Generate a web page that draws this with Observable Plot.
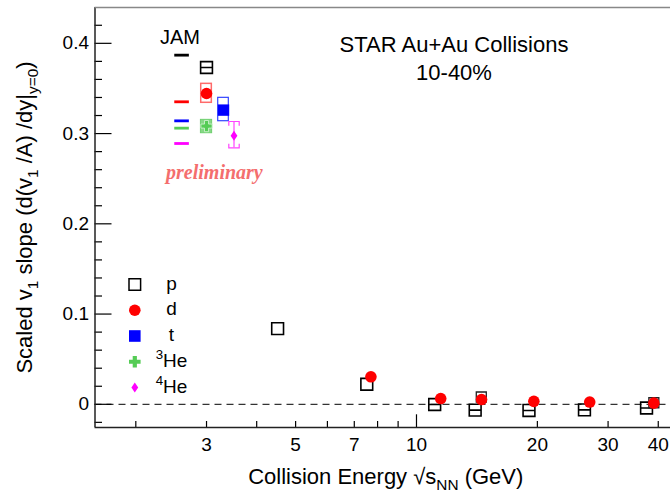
<!DOCTYPE html>
<html><head><meta charset="utf-8">
<script src="https://cdn.jsdelivr.net/npm/d3@7"></script>
<script src="https://cdn.jsdelivr.net/npm/@observablehq/plot@0.6"></script>
<style>
html,body{margin:0;padding:0;background:#fff;}
#chart svg{display:block;}
</style>
</head><body><div id="chart"></div>
<script>
// ---------------- data ----------------
const xTickLabels = [3, 5, 7, 10, 20, 30, 40];
const xMinorTicks = [2, 3, 4, 5, 6, 7, 8, 9, 20, 30, 40];
const xMajorTicks = [10];
const yTickLabels = [0, 0.1, 0.2, 0.3, 0.4];
const yMinorTicks = [-0.02, 0.02, 0.04, 0.06, 0.08, 0.12, 0.14, 0.16, 0.18, 0.22, 0.24, 0.26, 0.28, 0.32, 0.34, 0.36, 0.38, 0.42];

const species = ["p", "d", "t", "^{3}He", "^{4}He"];
const speciesColors = ["black", "#ff0000", "#0000ff", "#55cc55", "#ff00ff"];

// JAM model values at 3 GeV (drawn at a nominal offset energy)
const jamEnergy = 2.6;
const jamSlope = [0.3869, 0.3352, 0.3141, 0.3060, 0.2890];

// protons
const pEnergy = [3.0, 4.51, 7.52, 11.1, 14.0, 19.06, 26.2, 37.4];
const pSlope = [0.3732, 0.0839, 0.0222, -0.0002, -0.0064, -0.0068, -0.0062, -0.0041];
const pWithSys = [true, false, false, true, true, true, true, true];

// deuterons
const dEnergy = [3.0, 7.7, 11.49, 14.52, 19.6, 27.0, 39.0];
const dSlope = [0.3444, 0.0305, 0.0064, 0.0053, 0.0033, 0.0025, 0.0013];
const dSysEnergy = [3.0];
const dSysLow = [0.3341];
const dSysHigh = [0.3551];
const dBoxEnergy = [14.5, 39.0];
const dBoxSlope = [0.0081, 0.0017];

// tritons
const tEnergy = [3.307];
const tSlope = [0.3260];
const tSysLow = [0.3137];
const tSysHigh = [0.3396];

// 3He
const he3Energy = [3.0];
const he3Slope = [0.3083];
const he3SysLow = [0.3004];
const he3SysHigh = [0.3152];

// 4He
const he4Energy = [3.512];
const he4Slope = [0.2975];
const he4ErrLow = [0.2842];
const he4ErrHigh = [0.3134];

// ---------------- layout ----------------
const W = 670, H = 494;
const margin = {left: 94.5, right: 0, top: 7, bottom: 67};
const xDomain = [1.5827, 42.91];
const yDomain = [-0.0257, 0.4397];
const frameW = W - margin.left - margin.right;
const frameH = H - margin.top - margin.bottom;

const zip = (xs, ys) => xs.map((x, i) => ({x, y: ys[i]}));
const pData = pEnergy.map((x, i) => ({x, y: pSlope[i], sys: pWithSys[i]}));
const dData = zip(dEnergy, dSlope);
const dBox = zip(dBoxEnergy, dBoxSlope);
const tData = zip(tEnergy, tSlope);
const he3Data = zip(he3Energy, he3Slope);
const he4Data = zip(he4Energy, he4Slope);
const jamData = jamSlope.map((y, i) => ({x: jamEnergy, y, color: speciesColors[i]}));
const box = (xs, lo, hi) => xs.map((x, i) => ({x, lo: lo[i], hi: hi[i]}));
const dSys = box(dSysEnergy, dSysLow, dSysHigh);
const tSys = box(tEnergy, tSysLow, tSysHigh);
const he3Sys = box(he3Energy, he3SysLow, he3SysHigh);
const he4Err = box(he4Energy, he4ErrLow, he4ErrHigh);

// ---------------- symbols ----------------
function sym(fn) { return {draw(c, size) { fn(c, Math.sqrt(size / Math.PI)); }}; }
const sqPath = (c, r) => { c.moveTo(-r, -r); c.lineTo(r, -r); c.lineTo(r, r); c.lineTo(-r, r); c.closePath(); };
const square = sym(sqPath);
const squareLine = sym((c, r) => { sqPath(c, r); c.moveTo(-r, 0); c.lineTo(r, 0); });
const plus = sym((c, r) => { const a = r * 0.36;
  c.moveTo(-a, -r); c.lineTo(a, -r); c.lineTo(a, -a); c.lineTo(r, -a); c.lineTo(r, a); c.lineTo(a, a);
  c.lineTo(a, r); c.lineTo(-a, r); c.lineTo(-a, a); c.lineTo(-r, a); c.lineTo(-r, -a); c.lineTo(-a, -a); c.closePath(); });
const diamond = sym((c, r) => { c.moveTo(0, -r); c.lineTo(0.68 * r, 0); c.lineTo(0, r); c.lineTo(-0.68 * r, 0); c.closePath(); });
const dash = sym((c, r) => { c.moveTo(-r, 0); c.lineTo(r, 0); });
const capTop = sym((c, r) => { c.moveTo(-r, 0.8 * r); c.lineTo(-r, 0); c.lineTo(r, 0); c.lineTo(r, 0.8 * r); });
const capBottom = sym((c, r) => { c.moveTo(-r, -0.8 * r); c.lineTo(-r, 0); c.lineTo(r, 0); c.lineTo(r, -0.8 * r); });

const legendStyles = [
  {symbol: square, r: 5.8, fill: "white", stroke: "black", strokeWidth: 1.5},
  {symbol: "circle", r: 5.8, fill: speciesColors[1], stroke: "none"},
  {symbol: square, r: 5.8, fill: speciesColors[2], stroke: "none"},
  {symbol: plus, r: 5.8, fill: speciesColors[3], stroke: "none"},
  {symbol: diamond, r: 5, fill: speciesColors[4], stroke: "none"}
];

const legendMarks = species.flatMap((name, i) => [
  Plot.dot([name], {frameAnchor: "top-left", dx: 39.8, dy: 277 + i * 25.75, ...legendStyles[i]}),
  Plot.text([name], {frameAnchor: "top-left", dx: 76.5, dy: 276 + i * 25.75, text: d => d, lineAnchor: "middle", textAnchor: "middle", fontSize: 19, fill: "black"})
]);

const tick = {stroke: "black", strokeWidth: 1.2};

const plot = Plot.plot({
  width: W, height: H,
  marginLeft: margin.left, marginRight: margin.right, marginTop: margin.top, marginBottom: margin.bottom,
  style: {fontFamily: "'Liberation Sans', Arial, sans-serif", fontSize: "19px", background: "white", color: "black", overflow: "visible"},
  x: {type: "log", domain: xDomain},
  y: {domain: yDomain},
  color: {type: "identity"},
  marks: [
    Plot.ruleY([0], {stroke: "black", strokeWidth: 1, strokeDasharray: "7,5"}),
    Plot.tickY(yTickLabels, {y: d => d, insetRight: frameW - 17, ...tick}),
    Plot.tickY(yMinorTicks, {y: d => d, insetRight: frameW - 7.5, ...tick}),
    Plot.tickX(xMinorTicks, {x: d => d, insetTop: frameH - 6, ...tick}),
    Plot.tickX(xMajorTicks, {x: d => d, insetTop: frameH - 12.7, ...tick}),
    Plot.ruleX([xDomain[0]], {stroke: "#222", strokeWidth: 1.5}),
    Plot.ruleY([yDomain[0]], {stroke: "#222", strokeWidth: 1.5}),
    Plot.ruleY([yDomain[1]], {stroke: "#888", strokeWidth: 1.5}),
    Plot.axisX({ticks: xTickLabels, tickSize: 0, tickPadding: 10, tickFormat: d => `${d}`, label: null, fontSize: 19}),
    Plot.axisY({ticks: yTickLabels, tickSize: 0, tickPadding: 6, tickFormat: d => d === 0 ? "0" : d.toFixed(1), label: null, fontSize: 19}),

    // JAM
    Plot.dot(jamData, {x: "x", y: "y", symbol: dash, r: 7.3, stroke: "color", strokeWidth: 2.8, fill: "none"}),
    Plot.text(["JAM"], {x: [jamEnergy], frameAnchor: "top", dx: -1.6, dy: 22.1, lineAnchor: "top", textAnchor: "middle", fontSize: 20, fill: "black"}),

    // systematic boxes
    Plot.rect(he3Sys, {x1: "x", x2: "x", y1: "lo", y2: "hi", insetLeft: -5.6, insetRight: -5.6, fill: "#86d886", stroke: "#6fcf6f", strokeWidth: 1}),
    Plot.rect(tSys, {x1: "x", x2: "x", y1: "lo", y2: "hi", insetLeft: -5.3, insetRight: -5.3, fill: "none", stroke: "#3344ff", strokeWidth: 1.2}),
    Plot.rect(dSys, {x1: "x", x2: "x", y1: "lo", y2: "hi", insetLeft: -5.3, insetRight: -5.3, fill: "none", stroke: "#ff6a6a", strokeWidth: 1.5}),
    Plot.ruleX(he4Err, {x: "x", y1: "lo", y2: "hi", stroke: "#ff44ff", strokeWidth: 1.2}),
    Plot.dot(he4Err, {x: "x", y: "hi", symbol: capTop, r: 5.2, stroke: "#ff44ff", strokeWidth: 1.2, fill: "none"}),
    Plot.dot(he4Err, {x: "x", y: "lo", symbol: capBottom, r: 5.2, stroke: "#ff44ff", strokeWidth: 1.2, fill: "none"}),

    // protons
    Plot.dot(pData.filter(d => d.sys), {x: "x", y: "y", symbol: squareLine, r: 5.9, fill: "none", stroke: "black", strokeWidth: 1.6}),
    Plot.dot(pData.filter(d => !d.sys), {x: "x", y: "y", symbol: square, r: 5.9, fill: "none", stroke: "black", strokeWidth: 1.6}),
    Plot.dot(dBox, {x: "x", y: "y", symbol: square, r: 5, fill: "none", stroke: "#222", strokeWidth: 1.3}),
    // deuterons
    Plot.dot(dData, {x: "x", y: "y", symbol: "circle", r: 5.8, fill: speciesColors[1], stroke: "none"}),
    // tritons
    Plot.dot(tData, {x: "x", y: "y", symbol: square, r: 5.7, fill: speciesColors[2], stroke: "none"}),
    // 3He
    Plot.dot(he3Data, {x: "x", y: "y", symbol: plus, r: 5.6, fill: speciesColors[3], stroke: "#d8f5d8", strokeWidth: 0.8}),
    // 4He
    Plot.dot(he4Data, {x: "x", y: "y", symbol: diamond, r: 5, fill: speciesColors[4], stroke: "none"}),

    // texts
    Plot.text(["STAR Au+Au Collisions\n10-40%"], {frameAnchor: "top-left", dx: 359, dy: 24.1, lineAnchor: "top", lineHeight: 1.29, textAnchor: "middle", fontSize: 22, fill: "black"}),
    Plot.text(["preliminary"], {frameAnchor: "top-left", dx: 119.4, dy: 157.1, lineAnchor: "top", textAnchor: "middle", fontSize: 20, fontFamily: "'Liberation Serif', 'Times New Roman', serif", fontStyle: "italic", fontWeight: "bold", fill: "#f46e6e"}),
    Plot.text(["Collision Energy \u221As_{NN} (GeV)"], {frameAnchor: "bottom", dx: 3, dy: 40.4, lineAnchor: "top", textAnchor: "middle", fontSize: 22, fill: "black"}),
    Plot.text(["Scaled v_{1} slope (d(v_{1} /A) /dy|_{y=0})"], {frameAnchor: "left", dx: -70.5, rotate: -90, lineAnchor: "middle", textAnchor: "middle", fontSize: 22, fill: "black"}),

    ...legendMarks
  ]
});

document.getElementById("chart").append(plot);

// rich text: _{sub} and ^{sup}
function richify(root) {
  root.querySelectorAll("text").forEach(t => {
    const s = t.textContent;
    if (!/[_^]\{/.test(s)) return;
    const fs = parseFloat(getComputedStyle(t).fontSize);
    while (t.firstChild) t.removeChild(t.firstChild);
    let shift = 0;
    s.split(/([_^]\{[^}]*\})/).forEach(part => {
      if (!part) return;
      const ts = document.createElementNS("http://www.w3.org/2000/svg", "tspan");
      let target = 0, text = part, small = false;
      if (part.startsWith("_{")) { target = 0.3 * fs; text = part.slice(2, -1); small = true; }
      else if (part.startsWith("^{")) { target = -0.42 * fs; text = part.slice(2, -1); small = true; }
      const d = target - shift;
      if (d) ts.setAttribute("dy", d);
      shift = target;
      if (small) ts.setAttribute("font-size", 0.7 * fs);
      ts.textContent = text;
      t.appendChild(ts);
    });
  });
}
richify(plot);
</script>
</body></html>
